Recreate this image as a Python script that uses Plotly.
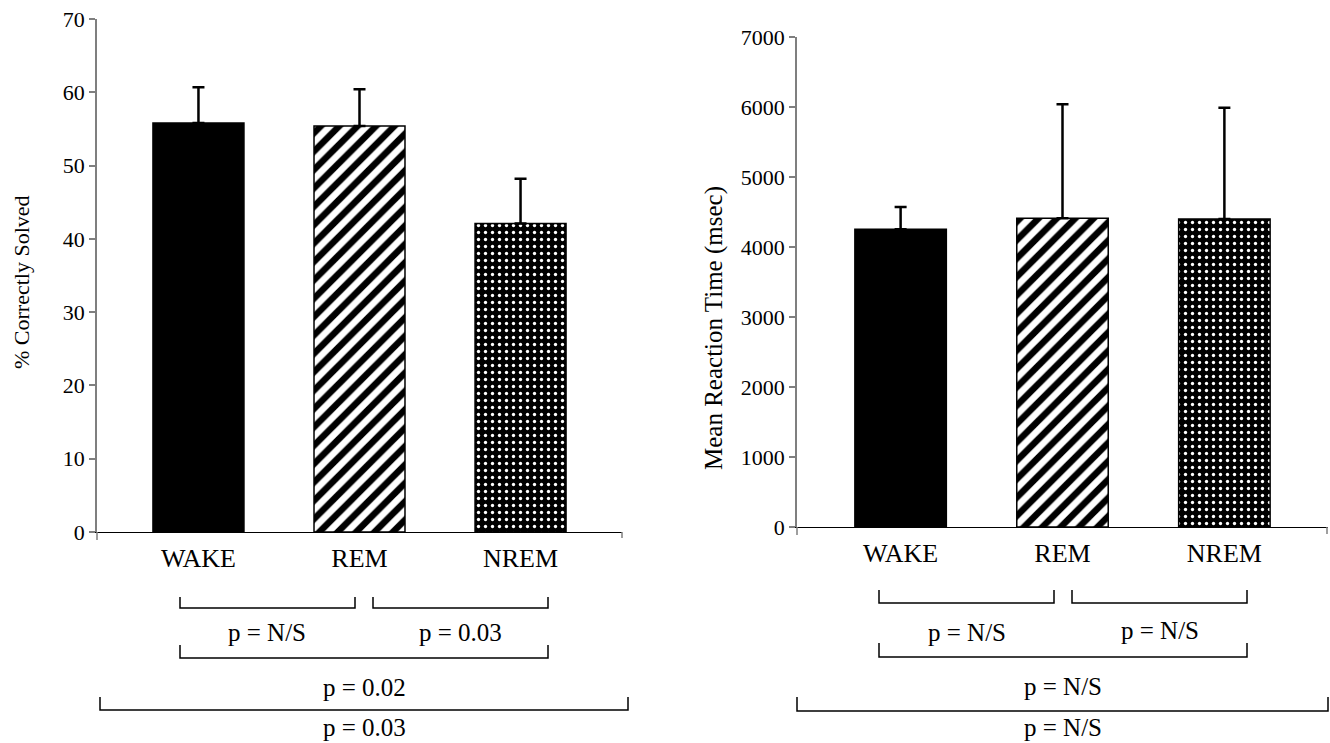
import plotly.graph_objects as go

# ---------------- data ----------------
categories = ["WAKE", "REM", "NREM"]

pct_solved = [55.8, 55.4, 42.1]
pct_solved_err = [4.9, 5.0, 6.1]

reaction_ms = [4255, 4410, 4400]
reaction_ms_err = [315, 1630, 1590]

left_yticks = [0, 10, 20, 30, 40, 50, 60, 70]
right_yticks = [0, 1000, 2000, 3000, 4000, 5000, 6000, 7000]

left_pvals = ["p = N/S", "p = 0.03", "p = 0.02", "p = 0.03"]
right_pvals = ["p = N/S", "p = N/S", "p = N/S", "p = N/S"]

# ---------------- styling ----------------
W, H = 1330, 743
FONT = "Liberation Serif, Times New Roman, serif"


def px(x):
    return x / W


def py(y):
    return 1 - y / H


bar_styles = [
    dict(color="black", pattern=dict(shape="")),
    dict(color="white", pattern=dict(shape="/", fgcolor="black", bgcolor="white",
                                     size=13, solidity=0.5, fillmode="replace")),
    dict(color="black", pattern=dict(shape=".", fgcolor="white", bgcolor="black",
                                     size=7, solidity=0.18, fillmode="replace")),
]


def add_bars(vals, errs, xa, ya):
    for i, cat in enumerate(categories):
        st = bar_styles[i]
        fig.add_trace(go.Bar(
            x=[cat],
            y=[vals[i]],
            width=0.565,
            marker=dict(
                color=st["color"],
                line=dict(color="black", width=1.5),
                pattern=st["pattern"],
            ),
            error_y=dict(
                type="data",
                symmetric=False,
                array=[errs[i]],
                arrayminus=[0],
                color="black",
                thickness=2.5,
                width=6,
            ),
            xaxis=xa,
            yaxis=ya,
            showlegend=False,
            name=cat,
        ))


fig = go.Figure()
add_bars(pct_solved, pct_solved_err, "x", "y")
add_bars(reaction_ms, reaction_ms_err, "x2", "y2")

xcommon = dict(
    type="category",
    categoryorder="array",
    categoryarray=categories,
    showline=True,
    linecolor="black",
    linewidth=1,
    ticks="outside",
    ticklen=3,
    tickcolor="rgba(0,0,0,0)",
    tickfont=dict(family=FONT, size=26, color="black"),
    showgrid=False,
    zeroline=False,
    automargin=False,
    fixedrange=True,
)
ycommon = dict(
    showline=True,
    linecolor="#7f7f7f",
    linewidth=1.5,
    ticks="outside",
    ticklen=6,
    tickwidth=1.5,
    tickcolor="#7f7f7f",
    tickfont=dict(family=FONT, size=22, color="black"),
    showgrid=False,
    zeroline=False,
    automargin=False,
    fixedrange=True,
)

fig.update_layout(
    width=W,
    height=H,
    barmode="overlay",
    margin=dict(l=0, r=0, t=0, b=0),
    paper_bgcolor="white",
    plot_bgcolor="white",
    font=dict(family=FONT, color="black"),
    xaxis=dict(xcommon, domain=[px(97), px(622)], range=[-0.63, 2.63], anchor="y"),
    yaxis=dict(ycommon, domain=[py(532), py(19)], range=[0, 70],
               tickvals=left_yticks, anchor="x"),
    xaxis2=dict(xcommon, domain=[px(797), px(1328)], range=[-0.64, 2.64], anchor="y2"),
    yaxis2=dict(ycommon, domain=[py(527), py(37)], range=[0, 7000],
                tickvals=right_yticks, anchor="x2"),
)

annotations = []
shapes = []

# y-axis titles
annotations.append(dict(text="% Correctly Solved", x=px(22), y=py(282), xref="paper", yref="paper",
                        textangle=-90, showarrow=False, xanchor="center", yanchor="middle",
                        font=dict(family=FONT, size=22, color="black")))
annotations.append(dict(text="Mean Reaction Time (msec)", x=px(714), y=py(328), xref="paper", yref="paper",
                        textangle=-90, showarrow=False, xanchor="center", yanchor="middle",
                        font=dict(family=FONT, size=25, color="black")))


def bracket(x0, x1, ytop, ybot):
    line = dict(color="black", width=1.5)
    pts = f"M {px(x0)},{py(ytop)} L {px(x0)},{py(ybot)} L {px(x1)},{py(ybot)} L {px(x1)},{py(ytop)}"
    shapes.append(dict(type="path", path=pts, xref="paper", yref="paper", line=line))


def ptext(txt, x, y):
    annotations.append(dict(text=txt, x=px(x), y=py(y), xref="paper", yref="paper",
                            showarrow=False, xanchor="center", yanchor="middle",
                            font=dict(family=FONT, size=25, color="black")))


# left chart brackets
bracket(180, 355, 597, 608)
bracket(373, 548, 597, 608)
ptext(left_pvals[0], 267, 632)
ptext(left_pvals[1], 461, 632)
bracket(180, 548, 645, 658)
ptext(left_pvals[2], 364, 687)
bracket(100, 628, 697, 710)
ptext(left_pvals[3], 364, 727)

# right chart brackets
bracket(879, 1054, 590, 603)
bracket(1072, 1247, 590, 603)
ptext(right_pvals[0], 967, 632)
ptext(right_pvals[1], 1160, 630)
bracket(879, 1247, 643, 657)
ptext(right_pvals[2], 1063, 686)
bracket(797, 1328, 697, 711)
ptext(right_pvals[3], 1063, 727)

# small axis-end ticks
for (x, y0, y1) in [(97, 532, 540), (622, 532, 538), (797, 527, 535), (1327, 527, 534)]:
    shapes.append(dict(type="line", x0=px(x), x1=px(x), y0=py(y0), y1=py(y1),
                       xref="paper", yref="paper", line=dict(color="#7f7f7f", width=1.5)))

fig.update_layout(annotations=annotations, shapes=shapes)

fig.write_html(
    "out.html",
    config={"displayModeBar": False},
    post_script="document.body.style.margin='0';document.body.style.overflow='hidden';",
)
